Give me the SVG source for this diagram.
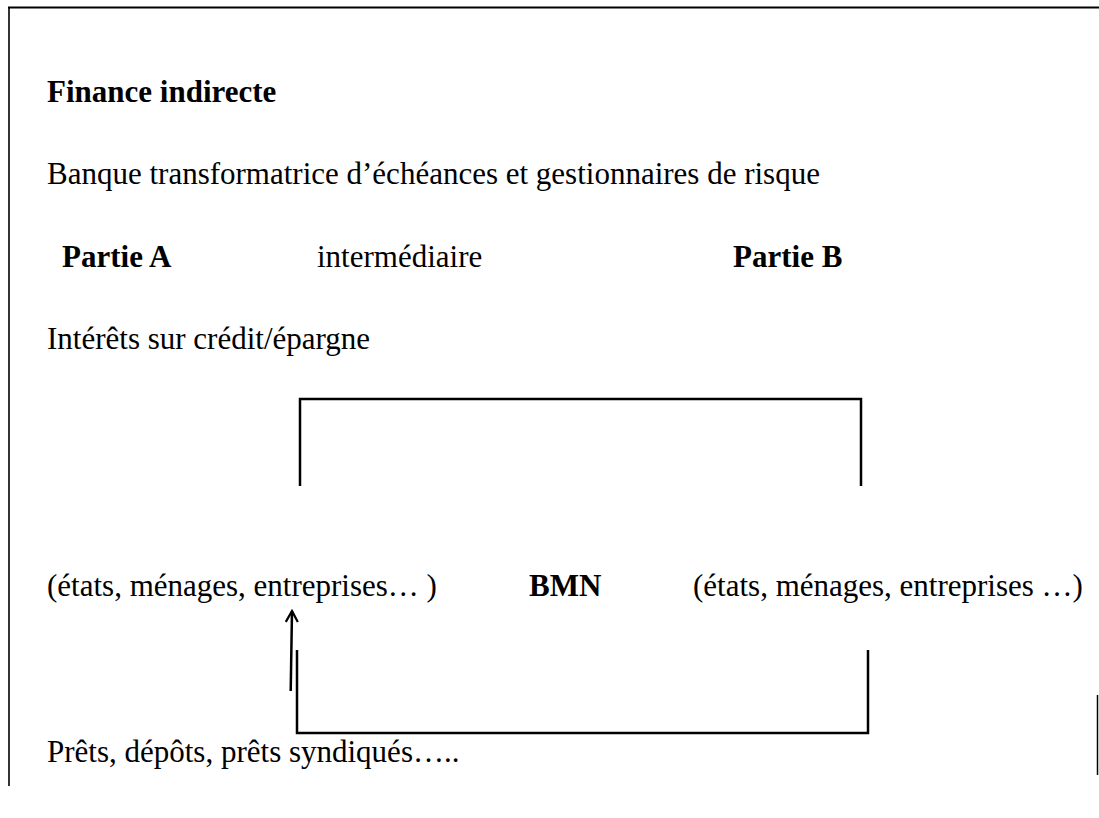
<svg xmlns="http://www.w3.org/2000/svg" width="1099" height="818" viewBox="0 0 1099 818">
  <style>
    text { font-family: "Liberation Serif", "Times New Roman", serif; font-size: 31px; fill: #000; }
    .b { font-weight: bold; }
    .frame { stroke: #000; fill: none; }
    .conn { stroke: #000; stroke-width: 2.5; fill: none; }
  </style>
  <defs>
    <marker id="open" viewBox="0 0 14 14" refX="12" refY="7" markerWidth="14" markerHeight="14" markerUnits="userSpaceOnUse" orient="auto">
      <path d="M1,1 L12,7 L1,13" fill="none" stroke="#000" stroke-width="2.2"/>
    </marker>
  </defs>
  <rect width="1099" height="818" fill="#fff"/>
  <g id="frame">
    <line class="frame" x1="8" y1="7.5" x2="1099" y2="7.5" stroke-width="2.2"/>
    <line class="frame" x1="9" y1="7" x2="9" y2="786" stroke-width="1.6"/>
    <line class="frame" x1="1097.5" y1="695" x2="1097.5" y2="775" stroke-width="1.5" stroke="#444"/>
  </g>
  <g id="title"><text class="b" x="47" y="102">Finance indirecte</text></g>
  <g id="subtitle"><text x="47" y="184">Banque transformatrice d’échéances et gestionnaires de risque</text></g>
  <g id="partie-a"><text class="b" x="62" y="267">Partie A</text></g>
  <g id="intermediaire"><text x="317" y="267">intermédiaire</text></g>
  <g id="partie-b"><text class="b" x="733" y="267">Partie B</text></g>
  <g id="interets"><text x="47" y="349">Intérêts sur crédit/épargne</text></g>
  <g id="agents-a"><text x="47" y="596">(états, ménages, entreprises… )</text></g>
  <g id="bmn"><text class="b" x="529" y="596">BMN</text></g>
  <g id="agents-b"><text x="693" y="596">(états, ménages, entreprises …)</text></g>
  <g id="prets"><text x="47" y="762">Prêts, dépôts, prêts syndiqués…..</text></g>
  <g id="connectors">
    <path class="conn" d="M300,486 L300,399 L861,399 L861,486"/>
    <path class="conn" d="M297,650 L297,733 L868,733 L868,650"/>
    <path class="conn" d="M290.7,691 L292,611" marker-end="url(#open)"/>
  </g>
</svg>
